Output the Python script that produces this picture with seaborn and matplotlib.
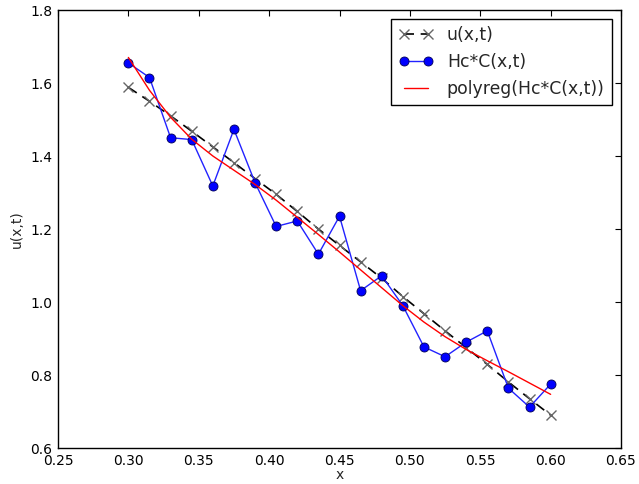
import matplotlib
matplotlib.use("Agg")
import matplotlib.pyplot as plt
import seaborn as sns
import pandas as pd

x = [0.300, 0.315, 0.330, 0.345, 0.360, 0.375, 0.390, 0.405, 0.420, 0.435, 0.450,
     0.465, 0.480, 0.495, 0.510, 0.525, 0.540, 0.555, 0.570, 0.585, 0.600]
u_exact = [1.588, 1.550, 1.510, 1.468, 1.425, 1.382, 1.338, 1.295, 1.248, 1.200, 1.155,
           1.110, 1.065, 1.015, 0.968, 0.921, 0.875, 0.829, 0.781, 0.735, 0.690]
hc_c = [1.655, 1.615, 1.450, 1.445, 1.318, 1.473, 1.327, 1.207, 1.222, 1.131, 1.235,
        1.031, 1.072, 0.990, 0.877, 0.850, 0.890, 0.921, 0.764, 0.712, 0.775]
polyreg = [1.670, 1.580, 1.506, 1.446, 1.400, 1.361, 1.322, 1.279, 1.232, 1.185, 1.137,
           1.088, 1.039, 0.990, 0.945, 0.905, 0.870, 0.839, 0.809, 0.778, 0.747]

labels = ["u(x,t)", "Hc*C(x,t)", "polyreg(Hc*C(x,t))"]
xticks = [0.25, 0.30, 0.35, 0.40, 0.45, 0.50, 0.55, 0.60, 0.65]
yticks = [0.6, 0.8, 1.0, 1.2, 1.4, 1.6, 1.8]

sns.set_style("white")
plt.rcParams['font.family'] = ['DejaVu Sans']

fig = plt.figure(figsize=(6.39, 4.84), dpi=100)
ax = fig.add_axes([58/639, 1 - 448/484, (621-58)/639, (448-10)/484])

df = pd.DataFrame({"x": x, "u": u_exact, "hc": hc_c, "pr": polyreg})

sns.lineplot(data=df, x="x", y="u", ax=ax, color="black", linestyle=(0, (6, 4)),
             linewidth=1.2, marker="x", markersize=7, markeredgewidth=1.0,
             markeredgecolor="#666666", label=labels[0])
sns.lineplot(data=df, x="x", y="hc", ax=ax, color="#2222ff", linewidth=1.0,
             marker="o", markersize=6.5, markerfacecolor="#0000ff",
             markeredgecolor="#000055", markeredgewidth=0.6, label=labels[1])
sns.lineplot(data=df, x="x", y="pr", ax=ax, color="red", linewidth=1.0,
             label=labels[2])

ax.set_xlim(0.25, 0.65)
ax.set_ylim(0.6, 1.8)
ax.set_xticks(xticks)
ax.set_yticks(yticks)
ax.set_xticklabels([f"{t:.2f}" for t in xticks], fontsize=10)
ax.set_yticklabels([f"{t:.1f}" for t in yticks], fontsize=10)
ax.tick_params(direction="in", top=True, right=True, length=4, width=0.8,
               colors="black", pad=4)
ax.set_xlabel("x", fontsize=10, labelpad=0)
ax.set_ylabel("u(x,t)", fontsize=10, labelpad=5)
for s in ax.spines.values():
    s.set_color("black")
    s.set_linewidth(1.0)

leg = ax.legend(loc="upper right", fontsize=12.4, numpoints=2, fancybox=False,
                framealpha=1, edgecolor="black", borderaxespad=0.5,
                handlelength=2.0, labelspacing=0.5, borderpad=0.45)
leg.get_frame().set_linewidth(1.0)

fig.savefig("out.png", dpi=100)
